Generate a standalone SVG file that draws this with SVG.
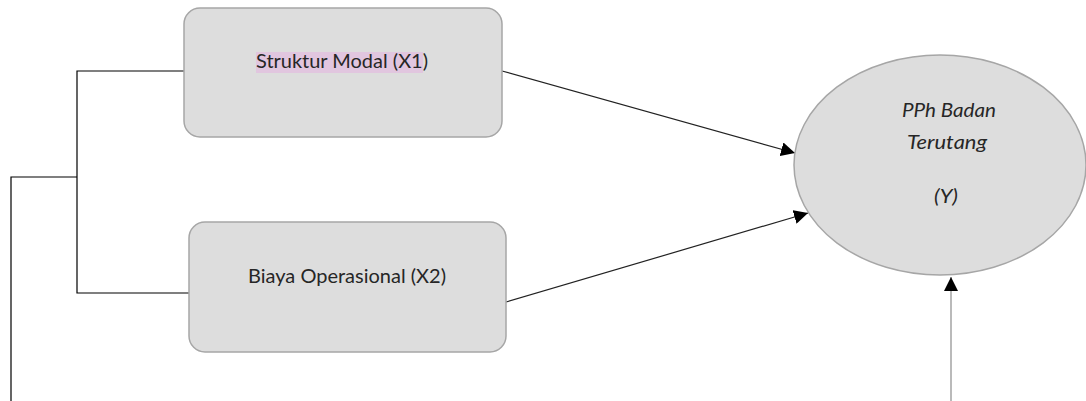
<svg xmlns="http://www.w3.org/2000/svg" width="1086" height="401" viewBox="0 0 1086 401">
<style>
.box{fill:#dddddd;stroke:#a6a6a6;stroke-width:1.5}
.lbl{font-family:Lato,"Open Sans",sans-serif;font-size:19px;fill:#262626;text-anchor:middle}
.ital{font-family:Lato,"Open Sans",sans-serif;font-size:19px;font-style:italic;fill:#262626;text-anchor:middle}
.ln{stroke:#000;stroke-width:1.2;fill:none}
.ar{stroke:#222;stroke-width:1.2;fill:none;marker-end:url(#ah)}
</style>
<defs>
<marker id="ah" viewBox="0 0 10 10" refX="10" refY="5" markerWidth="14" markerHeight="14" markerUnits="userSpaceOnUse" orient="auto">
<path d="M0,0 L10,5 L0,10 z" fill="#000"/>
</marker>
</defs>
<g id="connectors">
<polyline class="ln" points="184,71 77,71 77,293 189,293"/>
<polyline class="ln" points="77,177 11,177 11,401"/>
<line class="ar" x1="502" y1="71" x2="795" y2="153"/>
<line class="ar" x1="506" y1="302" x2="808" y2="213"/>
<line class="ar" x1="951" y1="401" x2="951" y2="277" style="stroke:#8c8c8c"/>
</g>
<g id="x1">
<rect class="box" x="184" y="8" width="318" height="129" rx="16"/>
<rect x="256" y="52" width="167" height="21" fill="#e1c6df"/>
<text class="lbl" x="342" y="68" textLength="172" lengthAdjust="spacingAndGlyphs">Struktur Modal (X1)</text>
</g>
<g id="x2">
<rect class="box" x="189" y="222" width="317" height="130" rx="16"/>
<text class="lbl" x="347" y="283" textLength="198" lengthAdjust="spacingAndGlyphs">Biaya Operasional (X2)</text>
</g>
<g id="y">
<ellipse class="box" cx="940" cy="165" rx="146" ry="110"/>
<text class="ital" x="949" y="117" textLength="94" lengthAdjust="spacingAndGlyphs">PPh Badan</text>
<text class="ital" x="947" y="149" textLength="80" lengthAdjust="spacingAndGlyphs">Terutang</text>
<text class="ital" x="946" y="203" textLength="24" lengthAdjust="spacingAndGlyphs">(Y)</text>
</g>
</svg>
